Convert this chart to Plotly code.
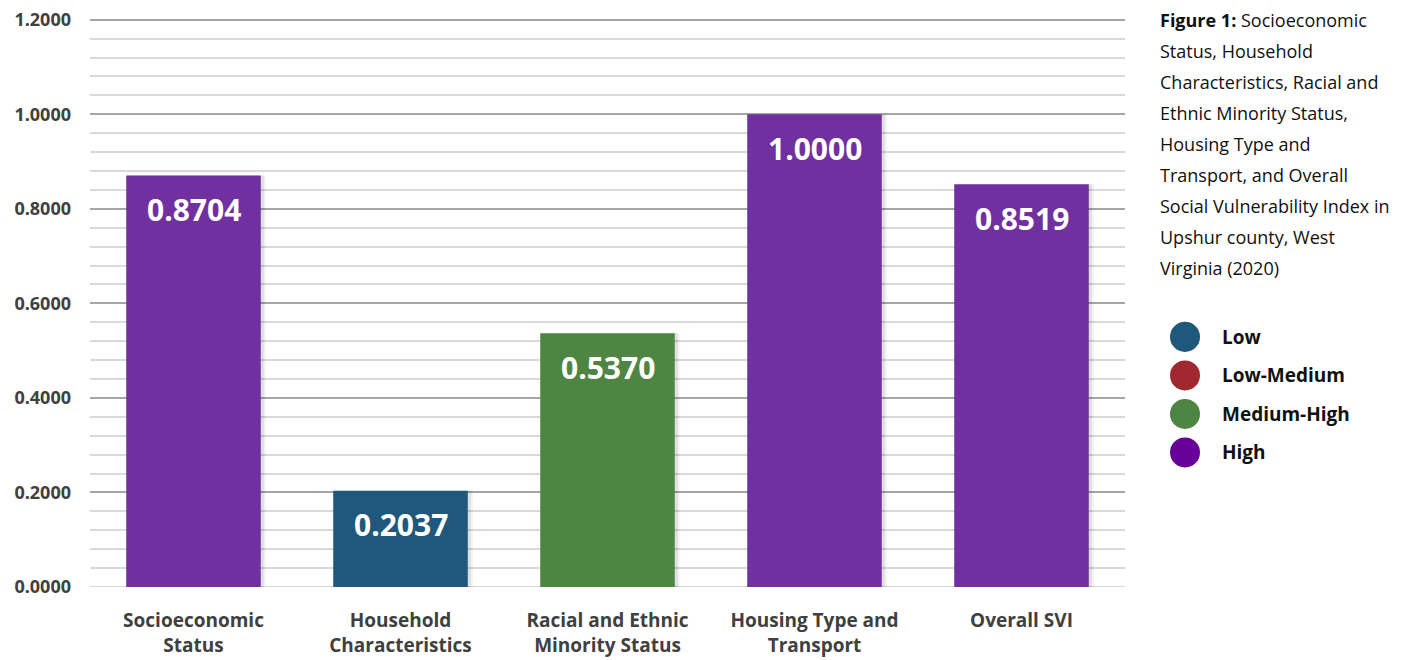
import plotly.graph_objects as go

categories = ["Socioeconomic<br>Status", "Household<br>Characteristics",
              "Racial and Ethnic<br>Minority Status", "Housing Type and<br>Transport", "Overall SVI"]
values = [0.8704, 0.2037, 0.5370, 1.0000, 0.8519]
levels = ["High", "Low", "Medium-High", "High", "High"]
bar_colors = {"Low": "#1F587C", "Low-Medium": "#A0282E", "Medium-High": "#4F8543", "High": "#7030A0"}
legend_labels = ["Low", "Low-Medium", "Medium-High", "High"]
legend_colors = ["#1F587A", "#A0282E", "#4F8543", "#660099"]
caption_lines = ["<b>Figure 1:</b> Socioeconomic", "Status, Household", "Characteristics, Racial and",
                 "Ethnic Minority Status,", "Housing Type and", "Transport, and Overall",
                 "Social Vulnerability Index in", "Upshur county, West", "Virginia (2020)"]
y_ticks = [0, 0.2, 0.4, 0.6, 0.8, 1.0, 1.2]

OFF = 8  # page body margin
Y_MAX = 1.21
scale = (587 - 20) / 1.2  # px per unit
W, H = 1416 - OFF, 660 - OFF
L, R, B = 90 - OFF, 1125 - OFF, 587 - OFF
T = 587 - Y_MAX * scale - OFF
FONT = "Open Sans"
BAR_W = 0.65

def px_x(px):
    return (px - OFF - L) / (R - L)

def px_y(py):
    return (B - (py - OFF)) / (B - T)

fig = go.Figure()
# soft drop shadow
for k, a in [(5, 0.05), (3, 0.08)]:
    fig.add_trace(go.Bar(
        x=categories, y=values, width=BAR_W, offset=-BAR_W / 2 + k * (1 / 207),
        marker=dict(color=f"rgba(0,0,0,{a})", line=dict(width=0)),
        showlegend=False, hoverinfo="skip",
    ))
fig.add_trace(go.Bar(
    x=categories, y=values, width=BAR_W, offset=-BAR_W / 2,
    marker=dict(color=[bar_colors[l] for l in levels], line=dict(width=0)),
    showlegend=False, hoverinfo="x+y",
))

annotations = []
for c, v in zip(categories, values):
    annotations.append(dict(x=c, y=v, xref="x", yref="y", text=f"<b>{v:.4f}</b>",
                            showarrow=False, yanchor="middle", yshift=-34,
                            font=dict(family=FONT, size=30, color="white")))

for i, line in enumerate(caption_lines):
    annotations.append(dict(x=px_x(1158), y=px_y(20 + i * 31), xref="paper", yref="paper",
                            text=line, showarrow=False, xanchor="left", yanchor="middle",
                            font=dict(family=FONT, size=18, color="#111111")))

shapes = []
for i, (lab, col) in enumerate(zip(legend_labels, legend_colors)):
    cy = 337 + i * 38.5
    cx = 1185
    r = 15
    shapes.append(dict(type="circle", xref="paper", yref="paper",
                       x0=px_x(cx - r), x1=px_x(cx + r), y0=px_y(cy + r), y1=px_y(cy - r),
                       fillcolor=col, line=dict(width=0)))
    annotations.append(dict(x=px_x(1220), y=px_y(cy), xref="paper", yref="paper",
                            text=f"<b>{lab}</b>", showarrow=False, xanchor="left", yanchor="middle",
                            font=dict(family=FONT, size=19, color="#111111")))

fig.update_layout(
    width=W, height=H,
    margin=dict(l=L, r=W - R, t=T, b=H - B, autoexpand=False),
    paper_bgcolor="white", plot_bgcolor="white",
    barmode="overlay",
    annotations=annotations, shapes=shapes,
    font=dict(family=FONT),
)
fig.update_xaxes(
    showgrid=False, showline=False, ticks="",
    tickfont=dict(family=FONT, size=19, color="#404040", weight="bold"),
    ticklabelstandoff=20,
)
fig.update_yaxes(
    range=[0, Y_MAX], tickvals=y_ticks, tickformat=".4f",
    tickfont=dict(family=FONT, size=18, color="#404040", weight="bold"),
    ticklabeloverflow="allow",
    showgrid=True, gridcolor="#A6A6A6", gridwidth=2,
    minor=dict(tickvals=[i * 0.04 for i in range(31)], showgrid=True, gridcolor="#D9D9D9", gridwidth=2),
    zeroline=False, showline=False, ticks="", ticklabelstandoff=18,
)
fig.add_shape(type="line", xref="paper", yref="y", x0=0, x1=1, y0=0, y1=0,
              line=dict(color="#D9D9D9", width=2), layer="below")

fig.write_html("out.html")
